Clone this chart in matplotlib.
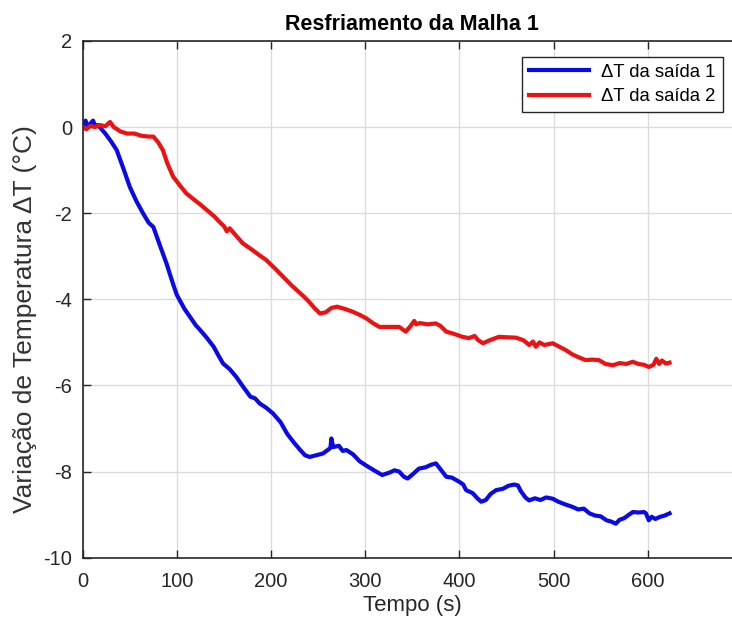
import numpy as np
import matplotlib.pyplot as plt

plt.rcParams['font.family'] = ['Liberation Sans', 'DejaVu Sans']
plt.rcParams['axes.unicode_minus'] = False

# saída 1 (blue)
t1 = [0, 3, 5, 8, 11, 13, 16, 18, 24, 30, 36, 43, 50, 57, 64, 70, 75, 82, 89, 96, 100,
      103, 108, 114, 120, 125, 132, 139, 144, 149, 156, 163, 170, 178, 183, 188, 195,
      202, 210, 217, 224, 231, 236, 241, 248, 255, 260, 263, 264, 266, 272, 276, 280,
      287, 294, 301, 310, 318, 326, 331, 336, 341, 345, 351, 357, 364, 370, 375, 380,
      386, 392, 400, 404, 407, 414, 419, 423, 428, 433, 439, 446, 452, 458, 462, 465,
      470, 474, 480, 486, 492, 499, 505, 512, 520, 526, 532, 538, 544, 550, 556, 561,
      566, 570, 575, 580, 584, 590, 596, 598, 601, 604, 608, 613, 618, 623]
dT1 = [0.05, 0.15, 0.02, 0.08, 0.15, 0.03, 0.05, 0.0, -0.15, -0.33, -0.53, -0.95, -1.39,
       -1.72, -2.0, -2.22, -2.32, -2.75, -3.17, -3.65, -3.9, -4.02, -4.22, -4.41, -4.6,
       -4.72, -4.9, -5.1, -5.3, -5.49, -5.62, -5.8, -6.02, -6.26, -6.3, -6.42, -6.52,
       -6.65, -6.85, -7.12, -7.32, -7.5, -7.62, -7.66, -7.62, -7.58, -7.5, -7.45, -7.23,
       -7.43, -7.4, -7.52, -7.5, -7.6, -7.76, -7.86, -7.98, -8.08, -8.02, -7.97, -8.0,
       -8.12, -8.16, -8.05, -7.93, -7.9, -7.84, -7.81, -7.95, -8.12, -8.14, -8.24, -8.3,
       -8.43, -8.5, -8.62, -8.7, -8.66, -8.52, -8.43, -8.4, -8.33, -8.3, -8.32, -8.45,
       -8.6, -8.67, -8.62, -8.66, -8.6, -8.63, -8.7, -8.76, -8.82, -8.88, -8.86, -8.97,
       -9.02, -9.04, -9.13, -9.16, -9.21, -9.12, -9.08, -9.0, -8.94, -8.95, -8.94, -8.97,
       -9.13, -9.05, -9.1, -9.05, -9.02, -8.97]

# saída 2 (red)
t2 = [0, 4, 8, 13, 18, 24, 29, 33, 40, 47, 55, 62, 70, 75, 80, 85, 90, 96, 103, 110,
      118, 125, 132, 140, 146, 150, 153, 156, 162, 170, 178, 186, 195, 204, 213, 222,
      228, 231, 234, 240, 246, 252, 258, 264, 270, 278, 287, 294, 301, 308, 315, 322,
      330, 336, 343, 348, 352, 354, 358, 366, 375, 380, 386, 394, 403, 410, 416, 420,
      425, 432, 442, 450, 460, 468, 474, 478, 481, 485, 490, 499, 506, 513, 520, 527,
      534, 541, 548, 555, 563, 570, 577, 584, 590, 596, 601, 606, 609, 612, 615, 619,
      623]
dT2 = [0.0, -0.05, 0.03, 0.0, 0.05, 0.02, 0.12, 0.0, -0.1, -0.15, -0.15, -0.2, -0.22,
       -0.22, -0.35, -0.53, -0.85, -1.15, -1.35, -1.54, -1.68, -1.8, -1.93, -2.08,
       -2.22, -2.3, -2.42, -2.35, -2.5, -2.7, -2.82, -2.95, -3.09, -3.28, -3.48, -3.68,
       -3.8, -3.86, -3.92, -4.05, -4.2, -4.33, -4.3, -4.2, -4.17, -4.22, -4.29, -4.36,
       -4.44, -4.55, -4.64, -4.64, -4.64, -4.64, -4.75, -4.62, -4.5, -4.58, -4.55,
       -4.58, -4.56, -4.62, -4.75, -4.8, -4.87, -4.9, -4.85, -4.95, -5.02, -4.95, -4.87,
       -4.88, -4.89, -4.95, -5.06, -4.98, -5.1, -5.0, -5.06, -5.02, -5.1, -5.18, -5.28,
       -5.35, -5.41, -5.4, -5.41, -5.5, -5.53, -5.48, -5.5, -5.45, -5.5, -5.52, -5.57,
       -5.52, -5.38, -5.5, -5.42, -5.49, -5.47]

fig = plt.figure(figsize=(7.32, 6.23), dpi=100)
# axes run past the right edge of the figure (x limit 700)
ax = fig.add_axes([0.113, 0.1048, 0.9007, 0.8294])

ax.plot(t1, dT1, color='#0a0ae6', linewidth=3, label='ΔT da saída 1')
ax.plot(t2, dT2, color='#ee1111', linewidth=3, label='ΔT da saída 2')

ax.set_xlim(0, 700)
ax.set_ylim(-10, 2)
ax.set_xticks(np.arange(0, 601, 100))
ax.set_yticks(np.arange(-10, 3, 2))
ax.grid(True, color='#dcdcdc', linewidth=1)
ax.set_axisbelow(True)
ax.tick_params(direction='in', top=True, right=True, length=6, width=1,
               labelsize=14.5, colors='#262626')
ax.tick_params(axis='x', pad=10.5)
ax.tick_params(axis='y', pad=7.7)
for sp in ax.spines.values():
    sp.set_color('#262626')
    sp.set_linewidth(1.2)

ax.set_title('Resfriamento da Malha 1', fontsize=15.5, fontweight='bold', pad=8)
ax.set_xlabel('Tempo (s)', fontsize=16, color='#262626', labelpad=3)
ax.set_ylabel('Variação de Temperatura ΔT (°C)', fontsize=19, color='#333333')
ax.yaxis.set_label_coords(-0.07, 0.462)

leg = ax.legend(loc='upper right', bbox_to_anchor=(0.9707, 0.9696), borderaxespad=0,
                fontsize=13.3, handlelength=3.25, handletextpad=0.65, borderpad=0.38,
                labelspacing=0.42, fancybox=False, framealpha=1, edgecolor='#262626')
leg.get_frame().set_linewidth(1)

fig.savefig('out.png', dpi=100)
